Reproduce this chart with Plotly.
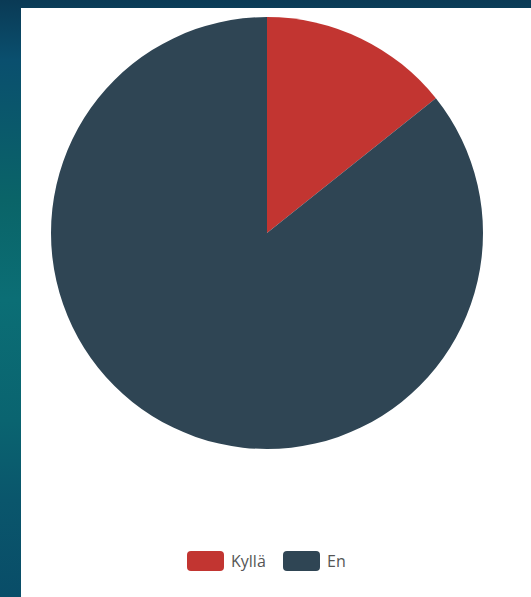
import plotly.graph_objects as go

labels = ["Kyllä", "En"]
values = [1, 6]
colors = ["#c23531", "#2f4554"]

W, H = 531, 597
ML, MT = 21, 8
PW, PH = W - ML, H - MT


def fx(px):
    return (px - ML) / PW


def fy(py):
    return (H - py) / PH


def rounded_rect(x0, y0, x1, y1, r):
    X0, X1 = fx(x0), fx(x1)
    Y0, Y1 = fy(y1), fy(y0)  # bottom, top
    rx, ry = r / PW, r / PH
    return (f"M {X0+rx},{Y1} L {X1-rx},{Y1} Q {X1},{Y1} {X1},{Y1-ry} "
            f"L {X1},{Y0+ry} Q {X1},{Y0} {X1-rx},{Y0} L {X0+rx},{Y0} "
            f"Q {X0},{Y0} {X0},{Y0+ry} L {X0},{Y1-ry} Q {X0},{Y1} {X0+rx},{Y1} Z")


fig = go.Figure(go.Pie(
    labels=labels,
    values=values,
    marker=dict(colors=colors, line=dict(width=0)),
    sort=False,
    direction="clockwise",
    rotation=0,
    textinfo="none",
    hoverinfo="label+value+percent",
    showlegend=False,
    domain=dict(x=[fx(267 - 216), fx(267 + 216)], y=[fy(233 + 216), fy(233 - 216)]),
))

fig.add_shape(type="rect", xref="paper", yref="paper", x0=0, x1=1, y0=0, y1=1,
              fillcolor="white", line=dict(width=0), layer="below")

# legend (ECharts-style rounded keys)
legend_x = [187, 283]
for lab, col, lx in zip(labels, colors, legend_x):
    fig.add_shape(type="path", xref="paper", yref="paper",
                  path=rounded_rect(lx, 551, lx + 37, 571, 4),
                  fillcolor=col, line=dict(width=0))
    fig.add_annotation(xref="paper", yref="paper", x=fx(lx + 42), y=fy(561),
                       xanchor="left", yanchor="middle", showarrow=False,
                       text=lab, font=dict(family="Open Sans, sans-serif", size=16, color="#555"))

fig.update_layout(
    width=W, height=H,
    margin=dict(l=ML, r=0, t=MT, b=0),
    paper_bgcolor="rgba(0,0,0,0)",
    showlegend=False,
)

post = """
document.body.style.margin='0';
document.documentElement.style.background='linear-gradient(180deg,#0a3a55 0px,#0a4f6e 60px,#0a6468 200px,#0b6e75 300px,#0a6470 420px,#0a566c 500px,#094d68 597px)';
document.body.style.background='transparent';
"""
fig.write_html("out.html", post_script=post, config={"displayModeBar": False})
